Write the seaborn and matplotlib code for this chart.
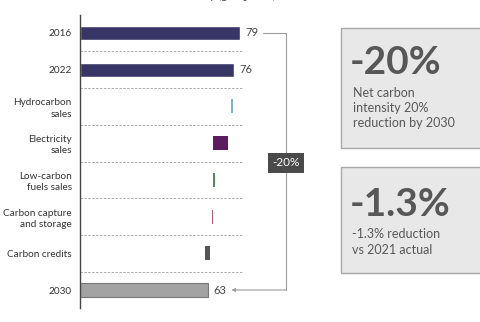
import matplotlib
matplotlib.use("Agg")
import matplotlib.pyplot as plt
from matplotlib.patches import Rectangle
import pandas as pd
import seaborn as sns

# data (net carbon intensity)
categories = ["2016", "2022", "Hydrocarbon\nsales", "Electricity\nsales",
              "Low-carbon\nfuels sales", "Carbon capture\nand storage",
              "Carbon credits", "2030"]
total_cats = ["2016", "2022", "2030"]
total_vals = [79, 76, 63]
total_labels = ["79", "76", "63"]
step_cats = ["Hydrocarbon\nsales", "Electricity\nsales", "Low-carbon\nfuels sales",
             "Carbon capture\nand storage", "Carbon credits"]
step_start = [74.6, 65.8, 65.9, 65.0, 61.6]
step_end = [75.6, 73.2, 66.5, 65.5, 64.3]
step_colors = ["#7db2c9", "#5b1d5f", "#4f8f4f", "#b8566a", "#555555"]
total_colors = {"2016": "#2f2e6f", "2022": "#2f2e6f", "2030": "#a3a3a3"}

sns.set_theme(style="white")
plt.rcParams["font.family"] = ["Lato", "DejaVu Sans"]

fig = plt.figure(figsize=(4.81, 3.22), dpi=100)
ax = fig.add_axes([80 / 481, 1 - 308 / 322, 220 / 481, 293 / 322])

df = pd.DataFrame({"cat": total_cats, "val": total_vals})
sns.barplot(data=df, x="val", y="cat", hue="cat", order=categories,
            palette=total_colors, orient="h", width=0.38, legend=False, ax=ax)
for p, c in zip(ax.patches, total_cats):
    if c == "2030":
        p.set_edgecolor("#777777")
        p.set_linewidth(0.8)

pos = {c: i for i, c in enumerate(categories)}
for c, s, e, col in zip(step_cats, step_start, step_end, step_colors):
    ax.barh(pos[c], e - s, left=s, height=0.38, color=col, edgecolor="none")

for c, v, t in zip(total_cats, total_vals, total_labels):
    ax.text(v + 2.8, pos[c], t, va="center", ha="left", fontsize=8, color="#444444")

# dashed separators
for i in range(len(categories) - 1):
    ax.plot([0, 80.5], [i + 0.5, i + 0.5], ls=(0, (2.5, 1.5)), lw=0.7, color="#aaaaaa")

# bracket with arrow
ax.plot([90.4, 101.7, 101.7], [0, 0, 7], color="#9a9a9a", lw=0.8)
ax.annotate("", xy=(74.8, 7), xytext=(101.7, 7),
            arrowprops=dict(arrowstyle="-|>", color="#9a9a9a", lw=0.8,
                            mutation_scale=5, shrinkA=0, shrinkB=0))
ax.text(101.7, 3.54, "-20%", ha="center", va="center", fontsize=8.5, color="white",
        bbox=dict(boxstyle="square,pad=0.35", fc="#4a4a4a", ec="none"))

ax.set_xlim(0, 220 / 2.025)
ax.set_ylim(7.49, -0.49)
ax.set_xlabel("")
ax.set_ylabel("")
ax.set_xticks([])
ax.tick_params(axis="y", length=0, pad=6, labelsize=7.2, labelcolor="#333333")
ax.set_yticks(range(len(categories)))
ax.set_yticklabels(categories, linespacing=1.3)
for s in ["top", "right", "bottom"]:
    ax.spines[s].set_visible(False)
ax.spines["left"].set_color("#444444")
ax.spines["left"].set_linewidth(1.0)
ax.patch.set_alpha(0)

# title mostly cut off at the top, as in the source image
fig.text(195 / 481, 1 + 5 / 322, "Net carbon intensity (gCO\u2082e/MJ)", ha="center",
         va="center", fontsize=8, color="#444444")

# right-hand callout boxes
def W(x):
    return x / 481

def H(y):
    return 1 - y / 322

for y0, y1 in [(28, 148), (167, 273)]:
    fig.patches.append(Rectangle((W(341), H(y1)), W(145), (y1 - y0) / 322,
                                 transform=fig.transFigure, fc="#e8e8e8",
                                 ec="#a8a8a8", lw=1.0))

fig.text(W(350), H(63), "-20%", fontsize=28, fontweight="bold", color="#575757",
         ha="left", va="center")
fig.text(W(353), H(108), "Net carbon\nintensity 20%\nreduction by 2030", fontsize=9,
         color="#575757", ha="left", va="center", linespacing=1.3)
fig.text(W(350), H(205), "-1.3%", fontsize=28, fontweight="bold", color="#575757",
         ha="left", va="center")
fig.text(W(352), H(242), "-1.3% reduction\nvs 2021 actual", fontsize=9,
         color="#575757", ha="left", va="center", linespacing=1.3)

fig.savefig("out.png", dpi=100)
